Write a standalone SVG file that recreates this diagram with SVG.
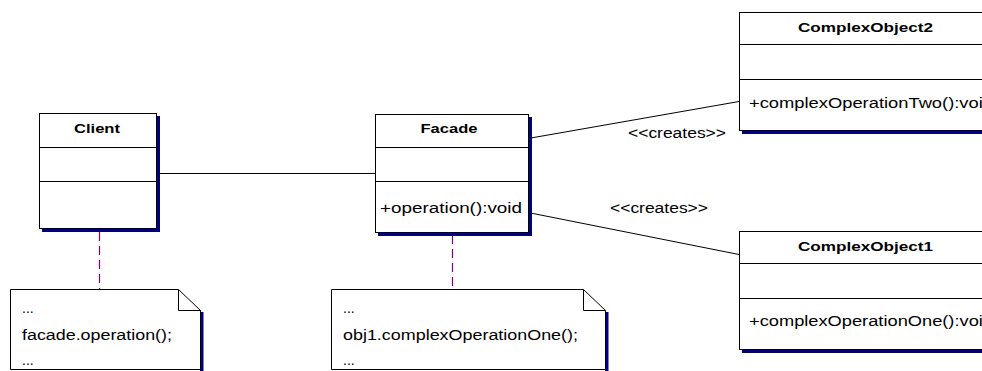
<svg xmlns="http://www.w3.org/2000/svg" width="982" height="371" viewBox="0 0 982 371">
<style>
.shadow{fill:#000080;}
.box{fill:#fff;stroke:#000;stroke-width:1;}
.div{stroke:#000;stroke-width:1;fill:none;}
.conn{stroke:#000;stroke-width:1;fill:none;}
.anchor{stroke:#800080;stroke-width:1.2;stroke-dasharray:9,5;fill:none;}
.name{font-family:"Liberation Sans",Arial,sans-serif;font-size:13.5px;font-weight:bold;fill:#000;text-anchor:middle;}
.t{font-family:"Liberation Sans",Arial,sans-serif;font-size:14px;fill:#000;}
</style>
<rect width="982" height="371" fill="#fff"/>
<g id="connectors">
<line class="conn" x1="159" y1="173.5" x2="375" y2="173.5"/>
<line class="conn" x1="528" y1="138.5" x2="739" y2="101.5"/>
<line class="conn" x1="528" y1="212.5" x2="739" y2="254.5"/>
<text class="t" x="628" y="138" textLength="98" lengthAdjust="spacingAndGlyphs">&lt;&lt;creates&gt;&gt;</text>
<text class="t" x="610" y="213" textLength="98" lengthAdjust="spacingAndGlyphs">&lt;&lt;creates&gt;&gt;</text>
<line class="anchor" x1="99.5" y1="232" x2="99.5" y2="289"/>
<line class="anchor" x1="452.5" y1="235" x2="452.5" y2="289"/>
</g>
<g id="client">
<rect class="shadow" x="42" y="116" width="118" height="116"/>
<rect class="box" x="39.5" y="113.5" width="117" height="115"/>
<line class="div" x1="39.5" y1="147.5" x2="156.5" y2="147.5"/>
<line class="div" x1="39.5" y1="181.5" x2="156.5" y2="181.5"/>
<text class="name" x="97" y="133" textLength="46" lengthAdjust="spacingAndGlyphs">Client</text>
</g>
<g id="facade">
<rect class="shadow" x="378" y="117" width="154" height="119"/>
<rect class="box" x="375.5" y="114.5" width="153" height="118"/>
<line class="div" x1="375.5" y1="147.5" x2="528.5" y2="147.5"/>
<line class="div" x1="375.5" y1="181.5" x2="528.5" y2="181.5"/>
<text class="name" x="449" y="133" textLength="57" lengthAdjust="spacingAndGlyphs">Facade</text>
<text class="t" x="380" y="213" textLength="142" lengthAdjust="spacingAndGlyphs">+operation():void</text>
</g>
<g id="complexObject2">
<rect class="shadow" x="742" y="15" width="260" height="119"/>
<rect class="box" x="739.5" y="12.5" width="260" height="118"/>
<line class="div" x1="739.5" y1="44.5" x2="999" y2="44.5"/>
<line class="div" x1="739.5" y1="79.5" x2="999" y2="79.5"/>
<text class="name" x="865.5" y="32" textLength="135" lengthAdjust="spacingAndGlyphs">ComplexObject2</text>
<text class="t" x="749" y="108" textLength="244" lengthAdjust="spacingAndGlyphs">+complexOperationTwo():void</text>
</g>
<g id="complexObject1">
<rect class="shadow" x="742" y="234" width="260" height="119"/>
<rect class="box" x="739.5" y="231.5" width="260" height="118"/>
<line class="div" x1="739.5" y1="263.5" x2="999" y2="263.5"/>
<line class="div" x1="739.5" y1="298.5" x2="999" y2="298.5"/>
<text class="name" x="865.5" y="251" textLength="135" lengthAdjust="spacingAndGlyphs">ComplexObject1</text>
<text class="t" x="749" y="326" textLength="244" lengthAdjust="spacingAndGlyphs">+complexOperationOne():void</text>
</g>
<g id="note1">
<rect class="shadow" x="200" y="312" width="3.5" height="62"/>
<path class="box" d="M10.5,289.5 H178.5 L200.5,310.5 V369.5 H10.5 Z"/>
<path class="div" d="M178.5,289.5 V310.5 H200.5"/>
<text class="t" x="22" y="313">...</text>
<text class="t" x="22" y="340" textLength="150" lengthAdjust="spacingAndGlyphs">facade.operation();</text>
<text class="t" x="22" y="365">...</text>
</g>
<g id="note2">
<rect class="shadow" x="605" y="312" width="3.5" height="62"/>
<path class="box" d="M331.5,289.5 H583.5 L605.5,310.5 V369.5 H331.5 Z"/>
<path class="div" d="M583.5,289.5 V310.5 H605.5"/>
<text class="t" x="343" y="313">...</text>
<text class="t" x="343" y="340" textLength="235" lengthAdjust="spacingAndGlyphs">obj1.complexOperationOne();</text>
<text class="t" x="343" y="365">...</text>
</g>
</svg>
